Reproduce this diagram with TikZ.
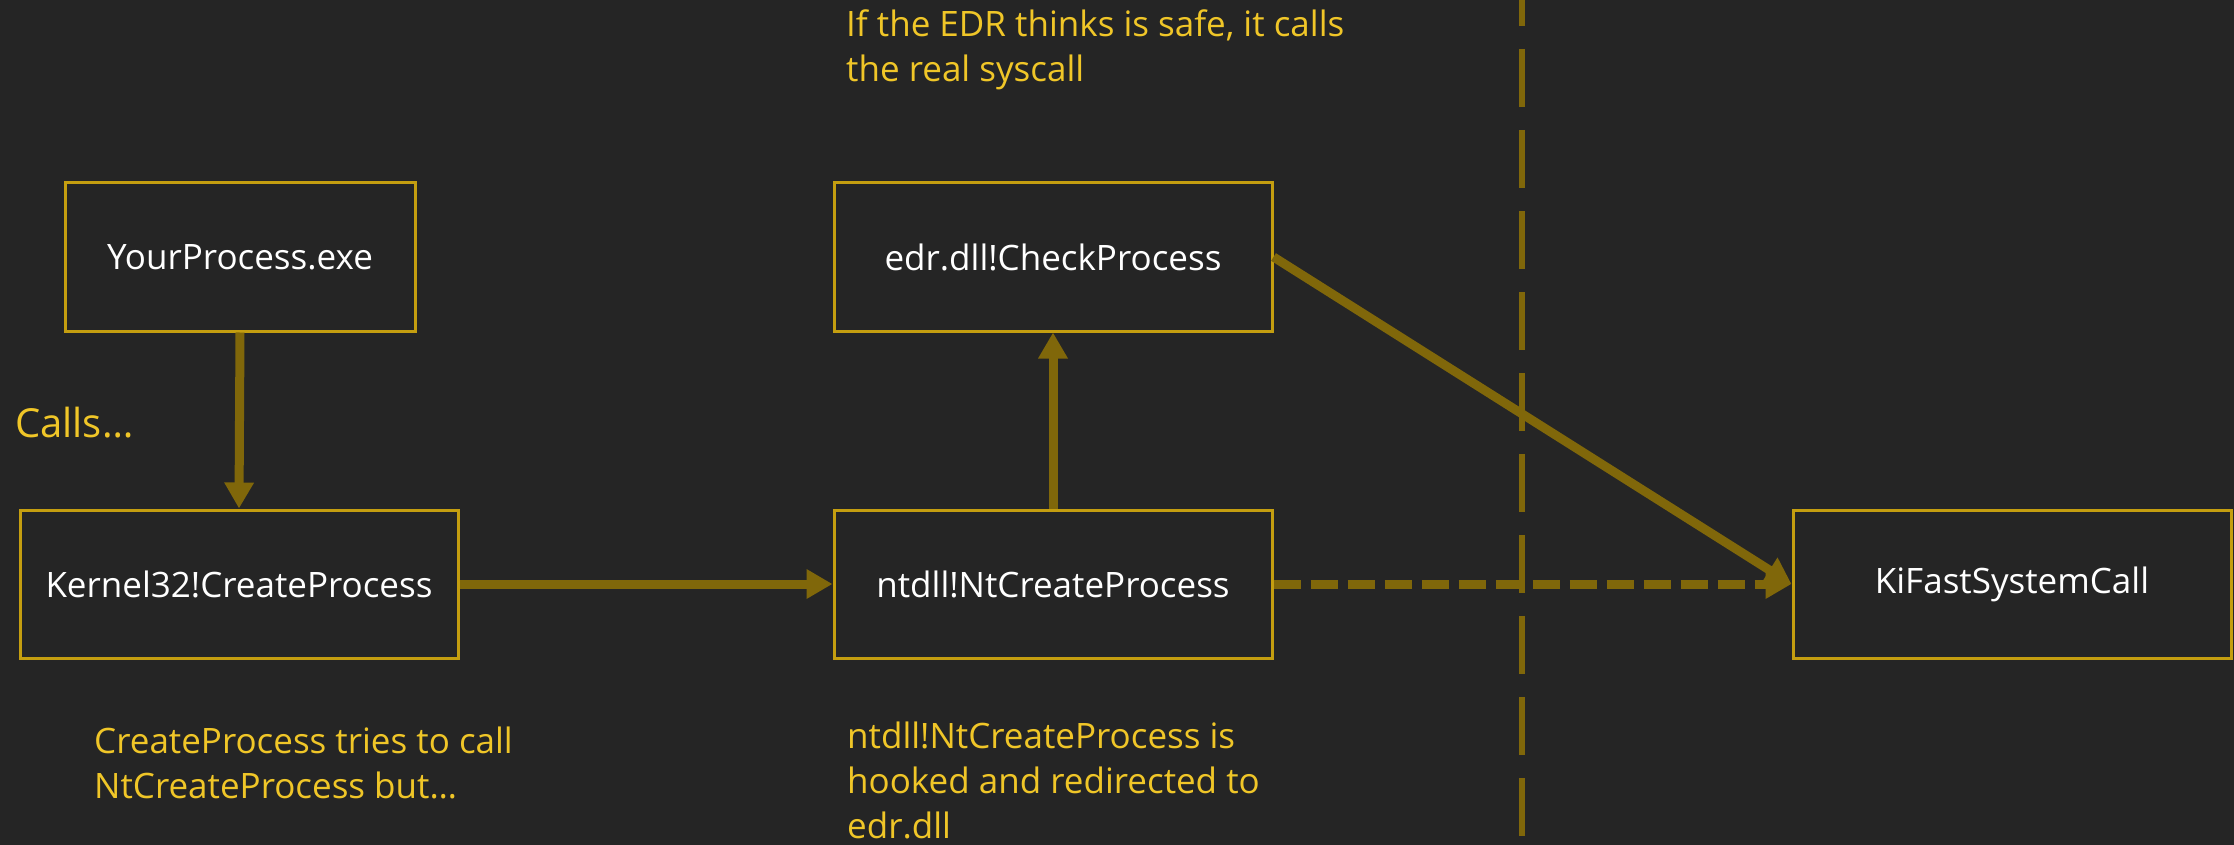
\documentclass[tikz,border=0pt]{standalone}
\usepackage{fontspec}
\setmainfont{Open Sans}
\usetikzlibrary{arrows.meta}
\definecolor{bgc}{RGB}{37,37,37}
\definecolor{boxc}{RGB}{196,158,16}
\definecolor{arrc}{RGB}{128,103,10}
\definecolor{notec}{RGB}{240,198,40}
\tikzset{
  box/.style={draw=boxc, line width=3pt, minimum width=438pt, minimum height=148pt,
    inner sep=0pt, text=white, font=\fontsize{35}{42}\selectfont},
  note/.style={text=notec, align=left, inner sep=0pt, anchor=base west,
    font=\fontsize{35}{45}\selectfont},
  flow/.style={draw=arrc, line width=9pt, -{Triangle[length=26pt,width=28pt]}},
  sepline/.style={draw=arrc, line width=6.5pt, dash pattern=on 58pt off 23pt}
}
\begin{document}
\begin{tikzpicture}[x=1pt,y=-1pt]
\fill[bgc] (0,0) rectangle (2234,845);
\useasboundingbox (0,0) rectangle (2234,845);
% separator
\coordinate (septop) at (1522,-32);
\coordinate (sepbot) at (1522,836);
\draw[sepline] (septop) -- (sepbot);
% boxes
\node[box, minimum width=350pt] (your) at (240,257) {YourProcess.exe};
\node[box] (k32) at (239,584) {Kernel32!CreateProcess};
\node[box] (edr) at (1053,257) {edr.dll!CheckProcess};
\node[box] (nt) at (1053,584) {ntdll!NtCreateProcess};
\node[box] (kfs) at (2012,584) {KiFastSystemCall};
% notes (base anchor = baseline of last line)
\node[note, font=\fontsize{40}{48}\selectfont] (calls) at (15,437) {Calls…};
\node[note] (n1) at (846,82) {If the EDR thinks is safe, it calls\\the real syscall};
\node[note] (n2) at (94,798) {CreateProcess tries to call\\NtCreateProcess but…};
\node[note] (n3) at (847,838) {ntdll!NtCreateProcess is\\hooked and redirected to\\edr.dll};
% arrows
\draw[flow] (your.south) -- (k32.north);
\draw[flow] (k32.east) -- (nt.west);
\draw[flow] (nt.north) -- (edr.south);
\draw[flow] (edr.east) -- (kfs.west);
\draw[flow, dash pattern=on 27pt off 10pt] (nt.east) -- (kfs.west);
\end{tikzpicture}
\end{document}
